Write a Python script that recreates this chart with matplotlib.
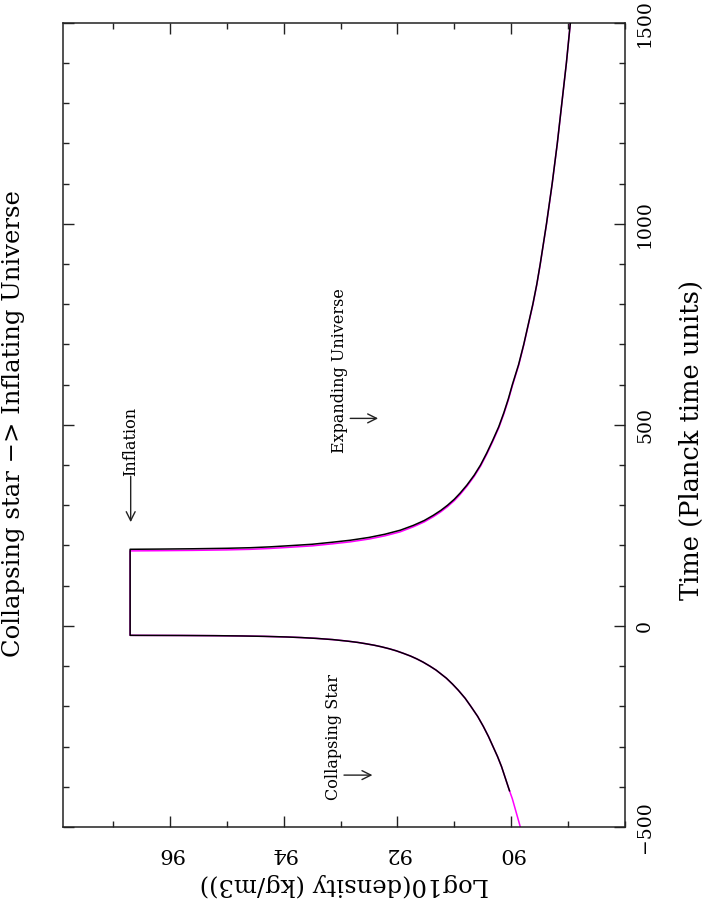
import matplotlib
matplotlib.use("Agg")
import matplotlib.pyplot as plt
from matplotlib.ticker import FixedLocator, MultipleLocator

plt.rcParams['font.family'] = ['DejaVu Serif']

# ---- data ----
# black series: collapsing star -> inflation plateau -> expanding universe
black_time = [-410, -380, -350, -325, -300, -275, -250, -225, -200, -180, -160, -145,
              -130, -120, -110, -100, -90, -82, -75, -68, -62, -57, -52, -48, -44, -41,
              -38, -34, -31, -29, -27.5, -26, -25, -24.3, -23.8, -23.5, -23.4,
              190.5, 191, 191.8, 193, 194.4, 196.5, 199, 203, 208, 213, 220, 228,
              238, 250, 262, 275, 287, 300, 315, 330, 350, 375, 400, 430, 460, 495,
              530, 565, 600, 650, 700, 750, 800, 850, 900, 1000, 1100, 1200, 1300,
              1400, 1500]
black_logrho = [90.03, 90.10, 90.17, 90.24, 90.32, 90.40, 90.49, 90.59, 90.71, 90.81,
                90.93, 91.03, 91.14, 91.23, 91.32, 91.43, 91.55, 91.66, 91.77, 91.90,
                92.02, 92.14, 92.28, 92.41, 92.57, 92.70, 92.87, 93.14, 93.43, 93.69,
                93.95, 94.34, 94.74, 95.20, 95.80, 96.60, 96.70,
                96.70, 96.2, 95.6, 95.0, 94.59, 94.25, 93.95, 93.5, 93.15, 92.83, 92.5,
                92.22, 91.95, 91.72, 91.53, 91.37, 91.24, 91.12, 91.00, 90.90, 90.78,
                90.65, 90.54, 90.43, 90.33, 90.22, 90.13, 90.05, 89.98, 89.87, 89.78,
                89.70, 89.62, 89.55, 89.49, 89.38, 89.28, 89.19, 89.11, 89.03, 88.96]

# magenta series
magenta_time = [-500, -475, -450, -430, -410, -380, -350, -325, -300, -275, -250, -225,
                -200, -180, -160, -145, -130, -120, -110, -100, -90, -82, -75, -68, -62,
                -57, -52, -48, -44, -41, -38, -34, -31, -29, -27.5, -26, -25, -24.3,
                -23.8, -23.5, -23.4,
                186.5, 187, 187.8, 189, 190.4, 192.5, 195, 199, 204, 209, 216, 224,
                234, 246.5, 258.5, 271.5, 283.5, 296.5, 311.5, 326.5, 347, 372, 397,
                427, 457, 492, 527, 562, 597, 647.5, 698, 748, 798, 848.5, 899, 999,
                1099, 1199.5, 1300, 1400, 1500]
magenta_logrho = [89.84, 89.89, 89.94, 89.98, 90.03, 90.10, 90.17, 90.24, 90.32, 90.40,
                  90.49, 90.59, 90.71, 90.81, 90.93, 91.03, 91.14, 91.23, 91.32, 91.43,
                  91.55, 91.66, 91.77, 91.90, 92.02, 92.14, 92.28, 92.41, 92.57, 92.70,
                  92.87, 93.14, 93.43, 93.69, 93.95, 94.34, 94.74, 95.20, 95.80, 96.60,
                  96.70,
                  96.70, 96.2, 95.6, 95.0, 94.59, 94.25, 93.95, 93.5, 93.15, 92.83, 92.5,
                  92.22, 91.95, 91.72, 91.53, 91.37, 91.24, 91.12, 91.00, 90.90, 90.78,
                  90.65, 90.54, 90.43, 90.33, 90.22, 90.13, 90.05, 89.98, 89.87, 89.78,
                  89.70, 89.62, 89.55, 89.49, 89.38, 89.28, 89.19, 89.11, 89.03, 88.96]

density_ticks = [90, 92, 94, 96]
density_tick_labels = ["90", "92", "94", "96"]
time_ticks = [-500, 0, 500, 1000, 1500]
time_tick_labels = ["\u2212500", "0", "500", "1000", "1500"]

title = "Collapsing star \u2212> Inflating Universe"
xlabel = "Log10(density (kg/m3))"
ylabel = "Time (Planck time units)"

# ---- figure ----
fig = plt.figure(figsize=(7.07, 8.99), dpi=100)
ax = fig.add_axes([0.0891, 0.0801, 0.7949, 0.8947])

ax.plot(magenta_logrho, magenta_time, color='#ff00ff', lw=1.1, zorder=2)
ax.plot(black_logrho, black_time, color='black', lw=1.1, zorder=3)

ax.set_xlim(97.88, 88.0)
ax.set_ylim(-500, 1500)

ax.xaxis.set_major_locator(FixedLocator(density_ticks))
ax.xaxis.set_minor_locator(MultipleLocator(1))
ax.set_xticklabels(density_tick_labels)
ax.yaxis.set_major_locator(FixedLocator(time_ticks))
ax.yaxis.set_minor_locator(MultipleLocator(100))
ax.set_yticklabels(time_tick_labels)

ax.tick_params(which='both', direction='in', top=True, bottom=True, left=True,
               right=True, labelleft=False, labelright=True, labelbottom=True,
               width=1.0, color='#222222')
ax.tick_params(which='major', length=8)
ax.tick_params(which='minor', length=4.3)
ax.tick_params(axis='x', labelrotation=180, labelsize=15, pad=12)
ax.tick_params(axis='y', labelrotation=90, labelsize=13.5, pad=8)
for lab in ax.get_yticklabels():
    lab.set_va('center')
for s in ax.spines.values():
    s.set_linewidth(1.1)
    s.set_color('#222222')

fig.text(344 / 707, 1 - 885 / 899, xlabel, rotation=180, ha='center', va='center',
         fontsize=17.5)
fig.text(691 / 707, 1 - 440 / 899, ylabel, rotation=90, ha='center', va='center',
         fontsize=18.5)
fig.text(14 / 707, 1 - 424 / 899, title, rotation=90, ha='center', va='center',
         fontsize=17.5)

# annotations
ax.text(93.13, -276, "Collapsing Star", rotation=90, ha='center', va='center',
        fontsize=11.5)
ax.annotate("", xy=(92.44, -371), xytext=(92.94, -371),
            arrowprops=dict(arrowstyle='->', lw=1.0, mutation_scale=16, color='#222222',
                            shrinkA=0, shrinkB=0))
ax.text(93.02, 636, "Expanding Universe", rotation=90, ha='center', va='center',
        fontsize=11.5)
ax.annotate("", xy=(92.34, 516), xytext=(92.83, 516),
            arrowprops=dict(arrowstyle='->', lw=1.0, mutation_scale=16, color='#222222',
                            shrinkA=0, shrinkB=0))
ax.text(96.69, 458, "Inflation", rotation=90, ha='center', va='center', fontsize=11.5)
ax.annotate("", xy=(96.69, 258), xytext=(96.69, 372),
            arrowprops=dict(arrowstyle='->', lw=1.0, mutation_scale=16, color='#222222',
                            shrinkA=0, shrinkB=0))

fig.savefig("out.png", dpi=100)
